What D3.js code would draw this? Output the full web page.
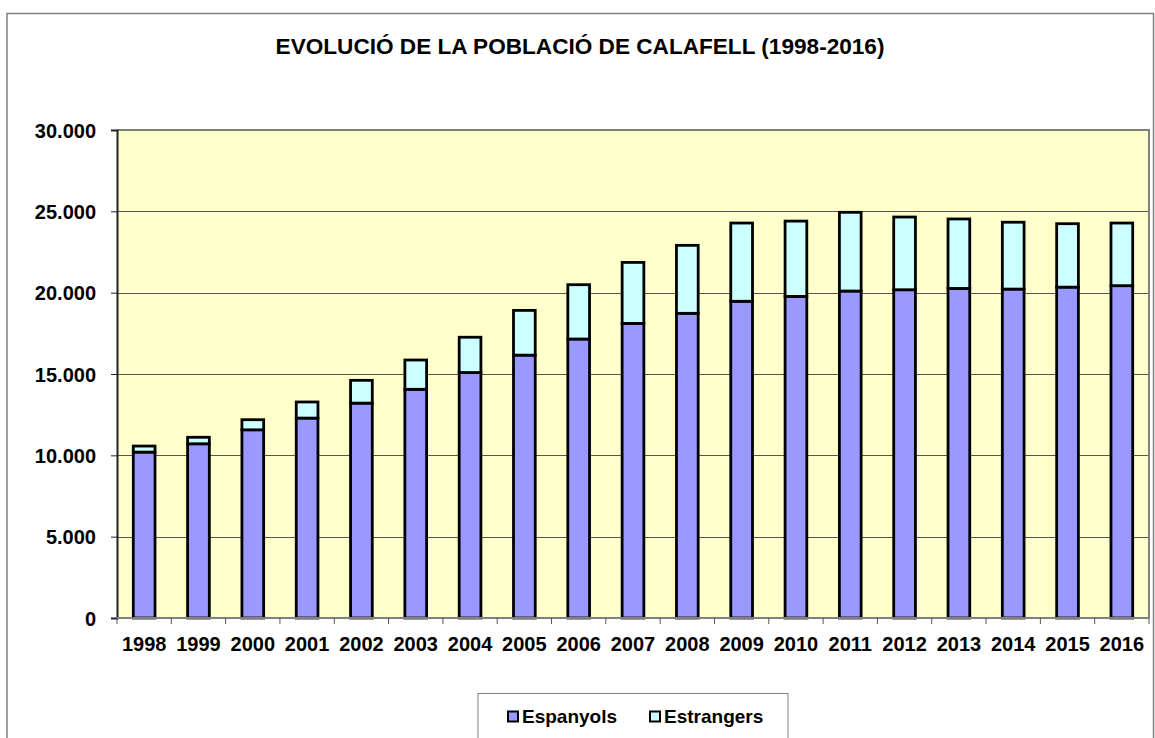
<!DOCTYPE html>
<html><head><meta charset="utf-8">
<script src="https://cdn.jsdelivr.net/npm/d3@7"></script>
<style>body{margin:0;background:#fff}svg{display:block}text{font-family:Arial,"Liberation Sans",sans-serif;font-weight:bold;fill:#000}</style>
</head><body>
<script>
const years = ["1998","1999","2000","2001","2002","2003","2004","2005","2006","2007","2008","2009","2010","2011","2012","2013","2014","2015","2016"];
const espanyols = [10200,10710,11570,12290,13210,14060,15090,16160,17150,18110,18730,19470,19770,20100,20180,20260,20220,20340,20430];
const totals = [10570,11110,12190,13280,14610,15860,17260,18910,20490,21860,22910,24280,24400,24940,24650,24530,24330,24240,24280];
const estrangers = totals.map((t,i)=>t-espanyols[i]);
const seriesNames = ["Espanyols","Estrangers"];
const seriesColors = ["#9999FF","#CCFFFF"];
const yTicks = [0,5000,10000,15000,20000,25000,30000];
const title = "EVOLUCIÓ DE LA POBLACIÓ DE CALAFELL (1998-2016)";

const W=1155,H=738;
const svg=d3.select("body").append("svg").attr("width",W).attr("height",H);
svg.append("rect").attr("x",7).attr("y",13.5).attr("width",1146.5).attr("height",740).attr("fill","#fff").attr("stroke","#808080").attr("stroke-width",1.5);

const L=117,R=1149,T=130,B=618;
const x=d3.scaleBand().domain(years).range([L,R]).paddingInner(0.6).paddingOuter(0.3);
const y=d3.scaleLinear().domain([0,30000]).range([B,T]);

svg.append("text").attr("x",580).attr("y",54).attr("text-anchor","middle").style("font-size","22.6px").text(title);

svg.append("rect").attr("x",L).attr("y",T).attr("width",R-L).attr("height",B-T).attr("fill","#FFFFCC");
svg.append("g").selectAll("line").data(yTicks.filter(d=>d>0&&d<30000)).join("line")
  .attr("x1",L).attr("x2",R).attr("y1",d=>Math.round(y(d))+0.5).attr("y2",d=>Math.round(y(d))+0.5)
  .attr("stroke","#555").attr("stroke-width",1);
svg.append("path").attr("d",`M${L},${T}H${R}V${B}`).attr("fill","none").attr("stroke","#808080").attr("stroke-width",2);

const stack=d3.stack().keys([0,1]).value((d,k)=>k===0?d.e:d.s);
const rows=years.map((yr,i)=>({yr,e:espanyols[i],s:estrangers[i]}));
const layers=stack(rows);
svg.append("g").selectAll("g").data(layers).join("g").attr("fill",(d,i)=>seriesColors[i])
  .selectAll("rect").data(d=>d).join("rect")
  .attr("x",d=>x(d.data.yr)).attr("width",x.bandwidth())
  .attr("y",d=>y(d[1])).attr("height",d=>y(d[0])-y(d[1]))
  .attr("stroke","#000").attr("stroke-width",2.8);

const ya=svg.append("g").attr("transform",`translate(${L},0)`)
  .call(d3.axisLeft(y).tickValues(yTicks).tickSize(6).tickPadding(15).tickFormat(d=>d3.format(",")(d).replace(/,/g,".")));
ya.select(".domain").attr("stroke","#222").attr("stroke-width",2);
ya.selectAll(".tick line").attr("stroke","#222");
ya.selectAll("text").style("font-size","20px").attr("font-family",null).attr("dy","0.36em");

const xa=svg.append("g").attr("transform",`translate(0,${B})`);
xa.append("line").attr("x1",L).attr("x2",R).attr("y1",0).attr("y2",0).attr("stroke","#808080").attr("stroke-width",2);
const bounds=d3.range(years.length+1).map(i=>L+(R-L)/years.length*i);
xa.selectAll(".tk").data(bounds).join("line").attr("class","tk").attr("x1",d=>d).attr("x2",d=>d).attr("y1",0).attr("y2",6).attr("stroke","#555");
xa.selectAll(".yl").data(years).join("text").attr("class","yl").attr("x",d=>x(d)+x.bandwidth()/2).attr("y",33)
  .attr("text-anchor","middle").style("font-size","20px").text(d=>d);

const lg=svg.append("g");
lg.append("rect").attr("x",478).attr("y",693.5).attr("width",310).attr("height",60).attr("fill","#fff").attr("stroke","#808080").attr("stroke-width",1);
const items=[{x:508,n:0},{x:650,n:1}];
items.forEach(it=>{
  lg.append("rect").attr("x",it.x).attr("y",711.5).attr("width",10).attr("height",10).attr("fill",seriesColors[it.n]).attr("stroke","#000").attr("stroke-width",2);
  lg.append("text").attr("x",it.x+14).attr("y",723).style("font-size","19px").text(seriesNames[it.n]);
});
</script>
</body></html>
